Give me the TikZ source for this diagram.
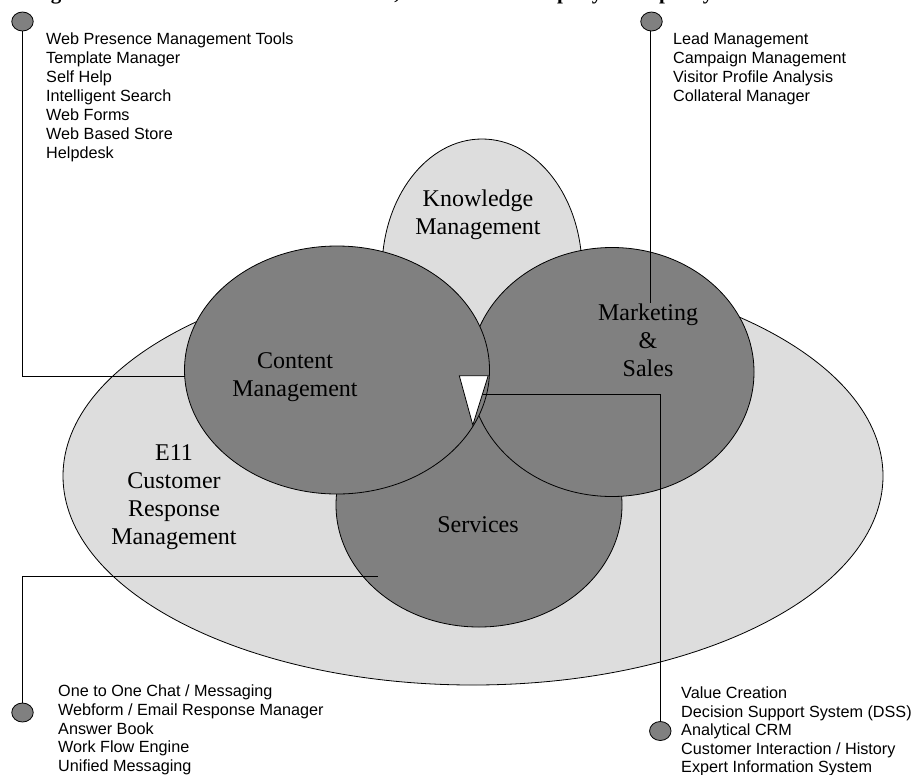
\documentclass[tikz,border=0pt]{standalone}
\usepackage{fontspec}
\setmainfont{Liberation Serif}
\newfontfamily\listfont{Liberation Sans}
\usetikzlibrary{shapes.geometric}
\tikzset{
  x=1pt,y=-1pt,
  blob/.style={ellipse,draw=black,line width=0.8pt,inner sep=0pt,outer sep=0pt},
  lightblob/.style={blob,fill=lightfill},
  darkblob/.style={blob,fill=midgrey},
  dot/.style={blob,fill=midgrey,minimum width=21.5pt,minimum height=19pt},
  wire/.style={draw=black,line width=0.8pt},
  serif/.style={font=\fontsize{24}{28.2}\selectfont,align=center,text=black,inner sep=0pt},
  items/.style={font=\listfont\fontsize{16.2}{19}\selectfont,align=left,anchor=north west,inner sep=0pt,text=black},
  lowitems/.style={items,font=\listfont\fontsize{16.2}{18.6}\selectfont},
  scrap/.style={font=\bfseries\fontsize{21}{21}\selectfont,anchor=base,inner sep=0pt,text=black}
}
\definecolor{lightfill}{HTML}{DDDDDD}
\definecolor{midgrey}{HTML}{808080}
\begin{document}
\begin{tikzpicture}
\useasboundingbox (0,0) rectangle (912,774);
\clip (0,0) rectangle (912,774);
\node[scrap] (s1) at (56,-1) {g};
\node[scrap] (s2) at (397,-1) {,};
\node[scrap] (s3) at (563,-1) {p};
\node[scrap] (s4) at (597,-1) {y};
\node[scrap] (s5) at (665,-1) {p};
\node[scrap] (s6) at (708,-1) {y};

\node[lightblob,minimum width=820pt,minimum height=418pt] (crm) at (473,476) {};
\node[lightblob,minimum width=200pt,minimum height=262pt] (know) at (482,270) {};
\node[darkblob,minimum width=286pt,minimum height=244pt] (serv) at (479,505) {};
\node[darkblob,minimum width=284pt,minimum height=249pt] (mark) at (612,372) {};
\node[darkblob,minimum width=305pt,minimum height=248pt] (cont) at (337,370) {};

\coordinate (t1) at (459.3,375.7);
\coordinate (t2) at (488.2,375.7);
\coordinate (t3) at (472.8,425);
\draw[line width=0.8pt,fill=white,line join=miter] (t1) -- (t2) -- (t3) -- cycle;

\node[dot] (d1) at (22.5,21.5) {};
\node[dot] (d2) at (651.5,21.5) {};
\node[dot] (d3) at (22.5,712.5) {};
\node[dot] (d4) at (660.3,731) {};

\coordinate (e1) at (185,376);
\coordinate (e2) at (650,303);
\coordinate (e3) at (378,576);
\coordinate (e4) at (483,394);
\draw[wire] (d1.south) -- (22.5,376) -- (e1);
\draw[wire] (650,31) -- (e2);
\draw[wire] (d3.north) -- (22.5,576) -- (e3);
\draw[wire] (d4.north) -- (660.3,394) -- (e4);

\node[serif] (lk) at (478,214.5) {Knowledge\\Management};
\node[serif] (lc) at (295,377.5) {Content\\Management};
\node[serif] (lm) at (648,340) {Marketing\\\&\\Sales};
\node[serif] (ls) at (478,525) {Services};
\node[serif] (le) at (174,497) {E11\\Customer\\Response\\Management};

\node[items] (i1) at (46,33) {Web Presence Management Tools\\Template Manager\\Self Help\\Intelligent Search\\Web Forms\\Web Based Store\\Helpdesk};
\node[items] (i2) at (673,33) {Lead Management\\Campaign Management\\Visitor Profile Analysis\\Collateral Manager};
\node[lowitems] (i3) at (58,685) {One to One Chat / Messaging\\Webform / Email Response Manager\\Answer Book\\Work Flow Engine\\Unified Messaging};
\node[lowitems] (i4) at (681,686.5) {Value Creation\\Decision Support System (DSS)\\Analytical CRM\\Customer Interaction / History\\Expert Information System};
\end{tikzpicture}
\end{document}
